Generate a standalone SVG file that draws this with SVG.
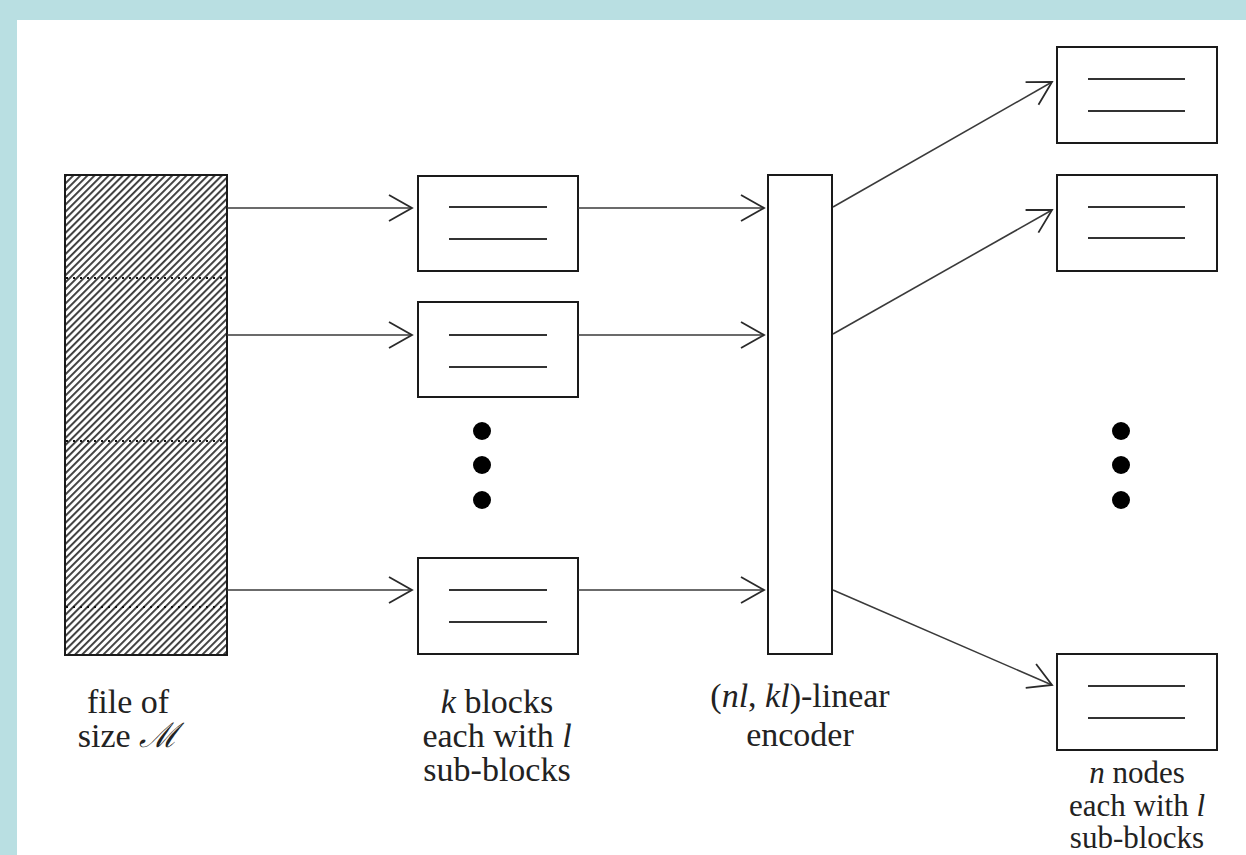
<svg xmlns="http://www.w3.org/2000/svg" width="1246" height="855" viewBox="0 0 1246 855">
  <style>
    .box { fill: #fff; stroke: #1a1a1a; stroke-width: 2; }
    .sub { stroke: #333; stroke-width: 2; }
    .conn { fill: none; stroke: #3a3a3a; stroke-width: 1.6; }
    .dot { fill: #000; }
    .lbl { font-family: "Liberation Serif", "DejaVu Serif", serif; font-size: 34px; fill: #222; text-anchor: middle; }
    .small { font-size: 31px; }
    .m { font-style: italic; }
  </style>
  <defs>
    <pattern id="hatch" patternUnits="userSpaceOnUse" width="5" height="5" patternTransform="rotate(45)">
      <rect width="5" height="5" fill="#fff"/>
      <rect x="0" y="0" width="1.9" height="5" fill="#3a3a3a"/>
    </pattern>
    <marker id="arrow" markerUnits="userSpaceOnUse" markerWidth="30" markerHeight="30" refX="24" refY="14" orient="auto">
      <path d="M1,1 L24,14 L1,27" fill="none" stroke="#2a2a2a" stroke-width="1.8"/>
    </marker>
  </defs>

  <!-- page frame -->
  <rect width="1246" height="855" fill="#b9dfe2"/>
  <rect x="17" y="20" width="1229" height="835" fill="#fff"/>

  <!-- the file being split -->
  <g id="file">
    <rect x="65" y="175" width="162" height="480" fill="url(#hatch)" stroke="#1a1a1a" stroke-width="2"/>
    <g stroke="#111" stroke-width="2" stroke-dasharray="2 5">
      <line x1="66" y1="278" x2="226" y2="278"/>
      <line x1="66" y1="441" x2="226" y2="441"/>
      <line x1="66" y1="607" x2="226" y2="607"/>
    </g>
    <text class="lbl" x="128" y="713">file of</text>
    <text class="lbl" x="128" y="747">size <tspan font-family="DejaVu Serif, serif" font-style="italic">ℳ</tspan></text>
  </g>

  <!-- k source blocks -->
  <g id="block1">
    <rect class="box" x="418" y="176" width="160" height="95"/>
    <line class="sub" x1="449" y1="207" x2="547" y2="207"/>
    <line class="sub" x1="449" y1="239" x2="547" y2="239"/>
  </g>
  <g id="block2">
    <rect class="box" x="418" y="302" width="160" height="95"/>
    <line class="sub" x1="449" y1="335" x2="547" y2="335"/>
    <line class="sub" x1="449" y1="367" x2="547" y2="367"/>
  </g>
  <g id="blockk">
    <rect class="box" x="418" y="558" width="160" height="96"/>
    <line class="sub" x1="449" y1="590" x2="547" y2="590"/>
    <line class="sub" x1="449" y1="622" x2="547" y2="622"/>
  </g>
  <g id="blocks-ellipsis">
    <circle class="dot" cx="482" cy="431" r="9"/>
    <circle class="dot" cx="482" cy="465" r="9"/>
    <circle class="dot" cx="482" cy="500" r="9"/>
  </g>
  <g id="blocks-label">
    <text class="lbl" x="497" y="713"><tspan class="m">k</tspan> blocks</text>
    <text class="lbl" x="497" y="747">each with <tspan class="m">l</tspan></text>
    <text class="lbl" x="497" y="781">sub-blocks</text>
  </g>

  <!-- linear encoder -->
  <g id="encoder">
    <rect class="box" x="768" y="175" width="64" height="479"/>
    <text class="lbl" x="800" y="707">(<tspan class="m">nl</tspan>, <tspan class="m">kl</tspan>)-linear</text>
    <text class="lbl" x="800" y="746">encoder</text>
  </g>

  <!-- n storage nodes -->
  <g id="node1">
    <rect class="box" x="1057" y="47" width="160" height="96"/>
    <line class="sub" x1="1088" y1="79" x2="1185" y2="79"/>
    <line class="sub" x1="1088" y1="111" x2="1185" y2="111"/>
  </g>
  <g id="node2">
    <rect class="box" x="1057" y="175" width="160" height="96"/>
    <line class="sub" x1="1088" y1="207" x2="1185" y2="207"/>
    <line class="sub" x1="1088" y1="238" x2="1185" y2="238"/>
  </g>
  <g id="noden">
    <rect class="box" x="1057" y="654" width="160" height="96"/>
    <line class="sub" x1="1088" y1="686" x2="1185" y2="686"/>
    <line class="sub" x1="1088" y1="718" x2="1185" y2="718"/>
  </g>
  <g id="nodes-ellipsis">
    <circle class="dot" cx="1121" cy="431" r="9"/>
    <circle class="dot" cx="1121" cy="465" r="9"/>
    <circle class="dot" cx="1121" cy="500" r="9"/>
  </g>
  <g id="nodes-label">
    <text class="lbl small" x="1137" y="783"><tspan class="m">n</tspan> nodes</text>
    <text class="lbl small" x="1137" y="816">each with <tspan class="m">l</tspan></text>
    <text class="lbl small" x="1137" y="848">sub-blocks</text>
  </g>

  <!-- connectors -->
  <g id="connectors">
    <line class="conn" x1="227" y1="208" x2="412" y2="208" marker-end="url(#arrow)"/>
    <line class="conn" x1="227" y1="335" x2="412" y2="335" marker-end="url(#arrow)"/>
    <line class="conn" x1="227" y1="590" x2="412" y2="590" marker-end="url(#arrow)"/>
    <line class="conn" x1="578" y1="208" x2="764" y2="208" marker-end="url(#arrow)"/>
    <line class="conn" x1="578" y1="335" x2="764" y2="335" marker-end="url(#arrow)"/>
    <line class="conn" x1="578" y1="590" x2="764" y2="590" marker-end="url(#arrow)"/>
    <line class="conn" x1="833" y1="207" x2="1052" y2="82" marker-end="url(#arrow)"/>
    <line class="conn" x1="833" y1="334" x2="1052" y2="210" marker-end="url(#arrow)"/>
    <line class="conn" x1="833" y1="590" x2="1052" y2="685" marker-end="url(#arrow)"/>
  </g>
</svg>
